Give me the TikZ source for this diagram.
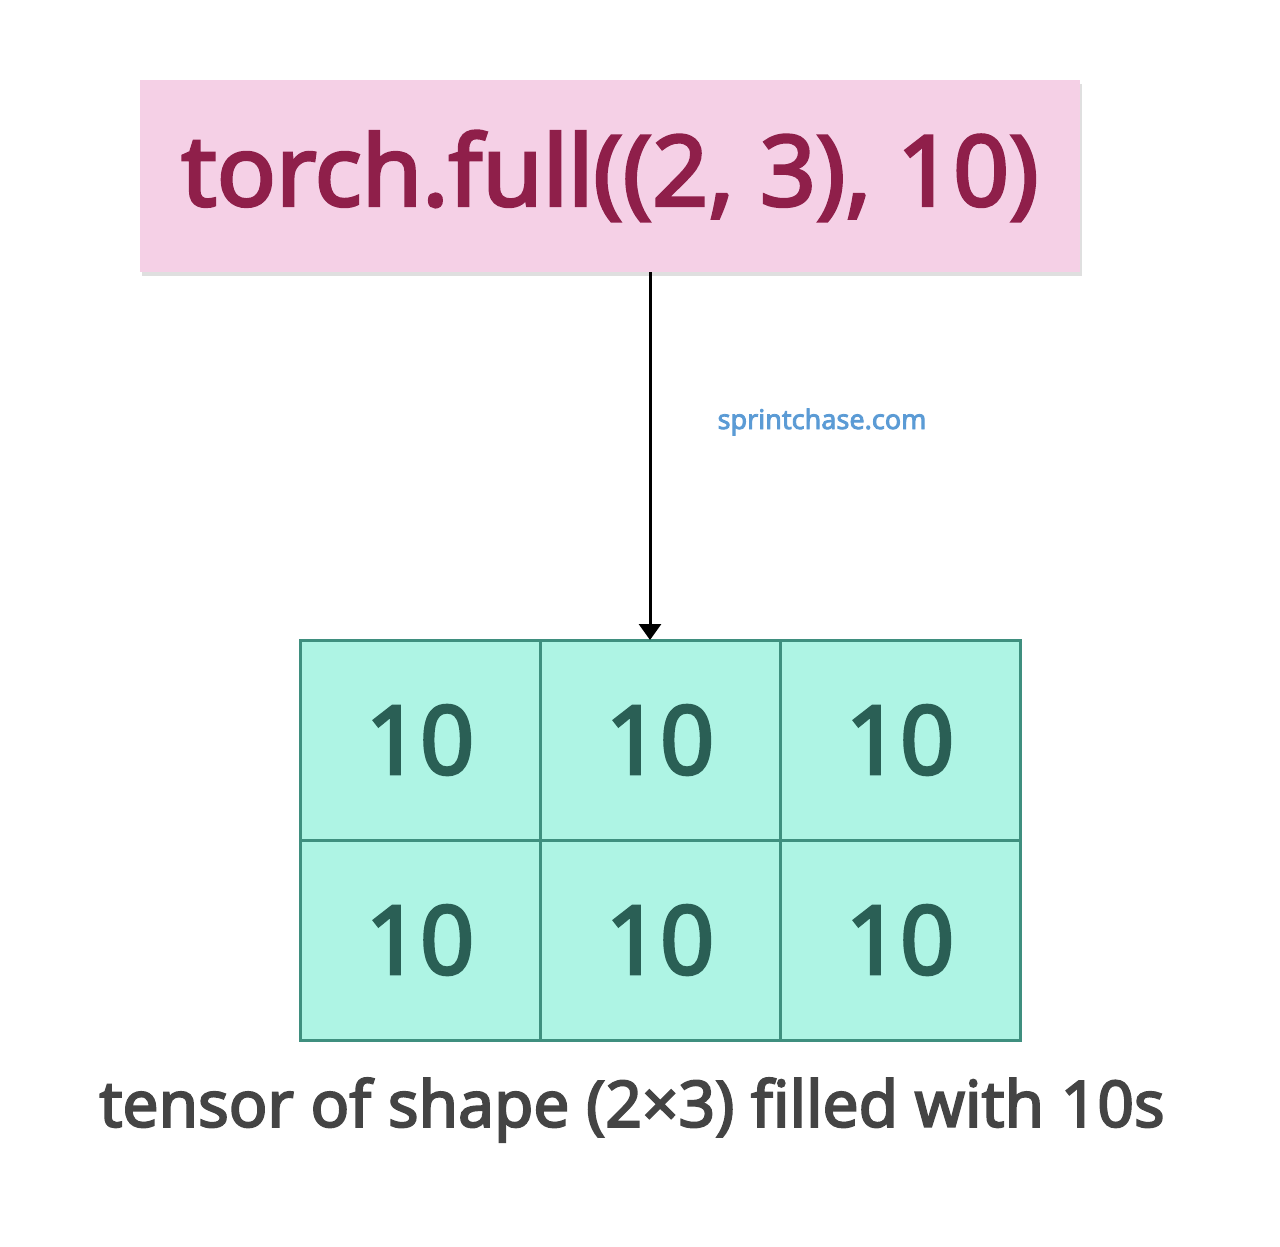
\documentclass[tikz,border=0pt]{standalone}
\usepackage{fontspec}
\setmainfont{Noto Sans}
\newfontfamily\sbf[FakeBold=3]{Noto Sans}
\usetikzlibrary{shadows,arrows.meta}
\definecolor{pinkbg}{HTML}{F5D0E6}
\definecolor{pinktx}{HTML}{8F1F4A}
\definecolor{cellbg}{HTML}{AEF4E4}
\definecolor{celldr}{HTML}{3F8F7F}
\definecolor{celltx}{HTML}{2A5F55}
\definecolor{linkc}{HTML}{5B9BD5}
\definecolor{captc}{HTML}{444444}
\tikzset{cellbox/.style={draw=celldr,line width=3pt,fill=cellbg,minimum width=240pt,minimum height=200pt,inner sep=0pt,text=celltx,font=\sbf\fontsize{95}{110}\selectfont}}
\begin{document}
\begin{tikzpicture}[x=1pt,y=-1pt]
\useasboundingbox (0,0) rectangle (1280,1247);
\node[fill=pinkbg,minimum width=940pt,minimum height=192pt,inner sep=0pt,
  drop shadow={shadow xshift=2pt,shadow yshift=-4pt,opacity=0.25},
  text=pinktx,font=\sbf\fontsize{98}{110}\selectfont] (top) at (610,176) {\raisebox{-5pt}{torch.full((2, 3), 10)}};
\foreach \r in {0,1}{\foreach \c in {0,1,2}{
  \node[cellbox] (c\r\c) at (420+240*\c,740+200*\r) {10};}}
\coordinate (s) at (650,272);
\coordinate (e) at (650,640);
\draw[line width=3pt,-{Triangle[length=16pt,width=22pt]}] (s) -- (e);
\node[text=linkc,font=\sbf\fontsize{27}{30}\selectfont] (lnk) at (822,422) {sprintchase.com};
\node[text=captc,font=\sbf\fontsize{64}{70}\selectfont] (cap) at (632,1110) {tensor of shape (2×3) filled with 10s};
\end{tikzpicture}
\end{document}
